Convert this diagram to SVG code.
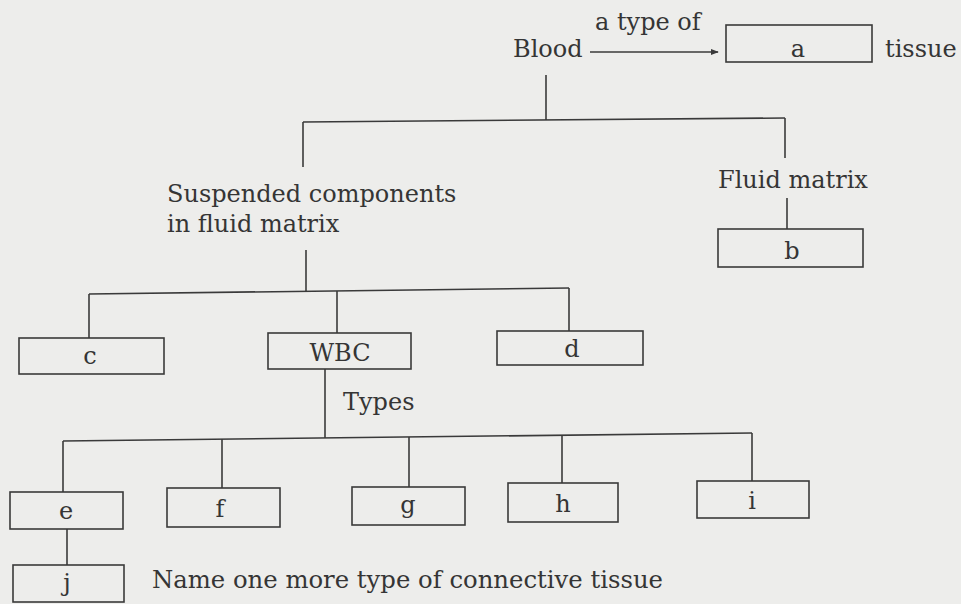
<svg xmlns="http://www.w3.org/2000/svg" width="961" height="604" viewBox="0 0 961 604">
<defs>
<style>
text{font-family:"DejaVu Serif","Liberation Serif",serif;font-size:24px;fill:#353535}
.m{text-anchor:middle}
.box{fill:none;stroke:#3a3a3a;stroke-width:1.6}
.ln{fill:none;stroke:#3a3a3a;stroke-width:1.6}
</style>
<marker id="ah" viewBox="0 0 10 10" refX="9" refY="5" markerWidth="8" markerHeight="8" markerUnits="userSpaceOnUse" orient="auto">
<path d="M0,1 L10,5 L0,9 Z" fill="#3a3a3a"/>
</marker>
</defs>
<rect x="0" y="0" width="961" height="604" fill="#ededeb"/>
<g id="connectors">
<line class="ln" x1="590" y1="52" x2="718" y2="52" marker-end="url(#ah)"/>
<line class="ln" x1="546" y1="75" x2="546" y2="120"/>
<line class="ln" x1="303" y1="122" x2="785" y2="118"/>
<line class="ln" x1="785" y1="118" x2="785" y2="158"/>
<line class="ln" x1="787" y1="198" x2="787" y2="229"/>
<line class="ln" x1="303" y1="122" x2="303" y2="167"/>
<line class="ln" x1="306" y1="250" x2="306" y2="292"/>
<line class="ln" x1="89" y1="294" x2="569" y2="288"/>
<line class="ln" x1="89" y1="294" x2="89" y2="338"/>
<line class="ln" x1="337" y1="291" x2="337" y2="333"/>
<line class="ln" x1="569" y1="288" x2="569" y2="331"/>
<line class="ln" x1="325" y1="369" x2="325" y2="438"/>
<line class="ln" x1="63" y1="441" x2="752" y2="433"/>
<line class="ln" x1="63" y1="441" x2="63" y2="492"/>
<line class="ln" x1="222" y1="439" x2="222" y2="488"/>
<line class="ln" x1="409" y1="437" x2="409" y2="487"/>
<line class="ln" x1="562" y1="435" x2="562" y2="483"/>
<line class="ln" x1="752" y1="433" x2="752" y2="481"/>
<line class="ln" x1="67" y1="529" x2="67" y2="565"/>
</g>
<g id="blood"><text x="513" y="57">Blood</text></g>
<g id="label-type"><text x="595" y="30">a type of</text></g>
<g id="a"><rect class="box" x="726" y="25" width="146" height="37"/><text class="m" x="798" y="57">a</text></g>
<g id="tissue"><text x="885" y="57">tissue</text></g>
<g id="suspended"><text x="167" y="202">Suspended components</text><text x="167" y="232">in fluid matrix</text></g>
<g id="fluid"><text x="718" y="188">Fluid matrix</text></g>
<g id="b"><rect class="box" x="718" y="229" width="145" height="38"/><text class="m" x="792" y="259">b</text></g>
<g id="c"><rect class="box" x="19" y="338" width="145" height="36"/><text class="m" x="90" y="364">c</text></g>
<g id="wbc"><rect class="box" x="268" y="333" width="143" height="36"/><text class="m" x="340" y="361">WBC</text></g>
<g id="d"><rect class="box" x="497" y="331" width="146" height="34"/><text class="m" x="572" y="357">d</text></g>
<g id="types"><text x="343" y="410">Types</text></g>
<g id="e"><rect class="box" x="10" y="492" width="113" height="37"/><text class="m" x="66" y="519">e</text></g>
<g id="f"><rect class="box" x="167" y="488" width="113" height="39"/><text class="m" x="220" y="517">f</text></g>
<g id="g"><rect class="box" x="352" y="487" width="113" height="38"/><text class="m" x="408" y="513">g</text></g>
<g id="h"><rect class="box" x="508" y="483" width="110" height="39"/><text class="m" x="563" y="512">h</text></g>
<g id="i"><rect class="box" x="697" y="481" width="112" height="37"/><text class="m" x="752" y="509">i</text></g>
<g id="j"><rect class="box" x="13" y="565" width="111" height="37"/><text class="m" x="67" y="591">j</text></g>
<g id="question"><text x="152" y="588" textLength="511" lengthAdjust="spacingAndGlyphs">Name one more type of connective tissue</text></g>
</svg>
